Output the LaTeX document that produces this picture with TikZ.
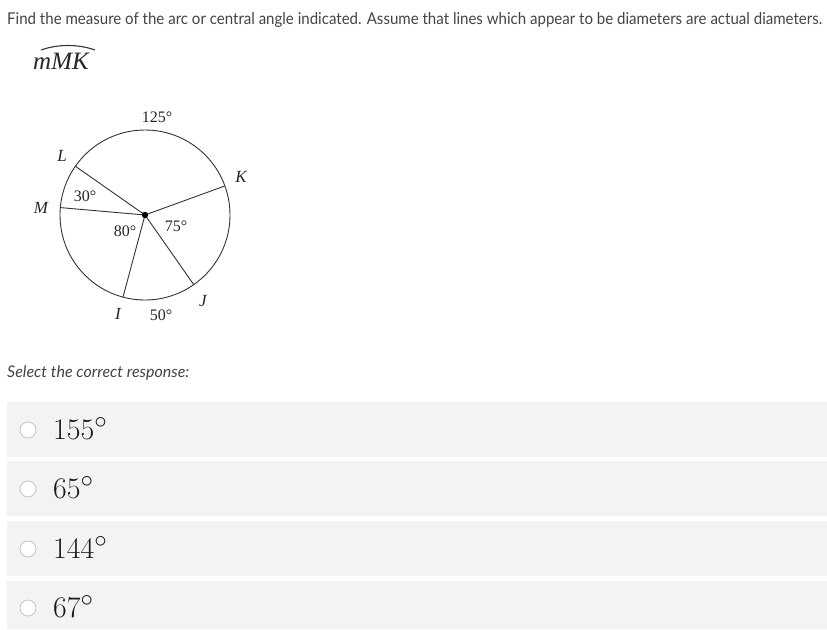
\documentclass[tikz,border=0pt]{standalone}
\usepackage{fontspec}
\setmainfont{Liberation Serif}
\newfontfamily\uisans{Lato}
\usetikzlibrary{calc}
\definecolor{txtgray}{HTML}{444444}
\definecolor{boxgray}{HTML}{F3F3F3}
\definecolor{radiogray}{HTML}{C4C4C4}
\newcommand{\optval}[1]{\scalebox{1.2}{$#1^\circ$}}
\tikzset{
  lbl/.style={font=\fontsize{16}{18}\selectfont, inner sep=0pt, text=black!85},
  ptlbl/.style={font=\fontsize{17}{19}\selectfont\itshape, inner sep=0pt, text=black!85},
  optbox/.style={fill=boxgray, draw=none},
  radio/.style={circle, draw=radiogray, fill=white, line width=0.8pt, minimum size=16pt, inner sep=0pt},
  opttext/.style={font=\fontsize{24.88}{28}\selectfont, inner sep=0pt, anchor=base west, text=black!90},
  spoke/.style={line width=0.9pt, draw=black!80}
}
\begin{document}
\begin{tikzpicture}[x=1pt,y=-1pt]
\useasboundingbox (0,0) rectangle (827,629);
\fill[white] (0,0) rectangle (827,629);
% header
\node[anchor=base west, inner sep=0pt, text=txtgray, font=\uisans\fontsize{15}{18}\selectfont] (title) at (7,25) {\resizebox{815pt}{12pt}{Find the measure of the arc or central angle indicated. Assume that lines which appear to be diameters are actual diameters.}};
\node[anchor=base west, inner sep=0pt, font=\fontsize{25}{28}\selectfont\itshape, text=black!85] (mmk) at (33,69) {mMK};
\draw[line width=1.1pt, black!80] (41,50) .. controls (58,44) and (78,44) .. (95,50);
% circle
\coordinate (O) at (145,215);
\draw[spoke] (O) circle[radius=85pt];
\coordinate (K) at ([shift={(20:85pt)}]O);
\coordinate (L) at ([shift={(145:85pt)}]O);
\coordinate (M) at ([shift={(175:85pt)}]O);
\coordinate (I) at ([shift={(255:85pt)}]O);
\coordinate (J) at ([shift={(305:85pt)}]O);
\foreach \p in {K,L,M,I,J} \draw[spoke] (O) -- (\p);
\fill[black] (O) circle[radius=3.2pt];
\node[lbl] (a125) at (157,117) {125°};
\node[ptlbl] (lL) at (62,156) {L};
\node[ptlbl] (lK) at (241,177) {K};
\node[ptlbl] (lM) at (41,208) {M};
\node[lbl] (a30) at (85,196) {30°};
\node[lbl] (a80) at (125,231) {80°};
\node[lbl] (a75) at (176,226) {75°};
\node[ptlbl] (lJ) at (203,301) {J};
\node[ptlbl] (lI) at (118,314) {I};
\node[lbl] (a50) at (161,315) {50°};
% prompt
\node[anchor=base west, inner sep=0pt, text=txtgray, font=\uisans\itshape\fontsize{16}{18}\selectfont] (sel) at (7,377) {Select the correct response:};
% options
\fill[optbox] (7,402) rectangle (827,457);
\fill[optbox] (7,461) rectangle (827,516);
\fill[optbox] (7,521) rectangle (827,576);
\fill[optbox] (7,581) rectangle (827,629);
\node[radio] (r1) at (28,430) {};
\node[radio] (r2) at (28,489) {};
\node[radio] (r3) at (28,549) {};
\node[radio] (r4) at (28,608) {};
\node[opttext] (o1) at (53,439) {\optval{155}};
\node[opttext] (o2) at (53,498) {\optval{65}};
\node[opttext] (o3) at (53,558) {\optval{144}};
\node[opttext] (o4) at (53,617) {\optval{67}};
\end{tikzpicture}
\end{document}
